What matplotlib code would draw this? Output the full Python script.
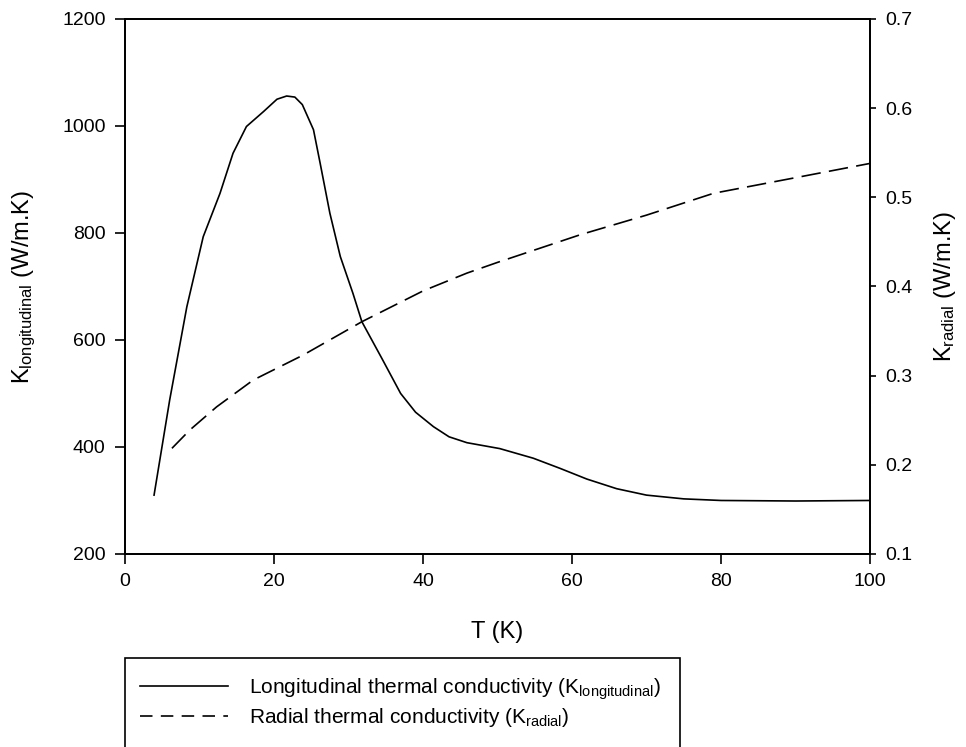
import matplotlib
matplotlib.use("Agg")
import matplotlib.pyplot as plt
from matplotlib.lines import Line2D
from matplotlib.patches import Rectangle

plt.rcParams['font.family'] = ['Liberation Sans', 'DejaVu Sans']
plt.rcParams['mathtext.default'] = 'regular'
plt.rcParams['lines.scale_dashes'] = False

# longitudinal conductivity (left axis)
t_long = [3.9, 6.0, 8.3, 10.5, 12.75, 14.5, 16.3, 18.6, 20.4, 21.7, 22.8, 23.8,
          25.3, 26.2, 27.5, 28.9, 30.6, 31.8, 34.5, 37.0, 39.0, 41.4, 43.5,
          45.9, 50.3, 54.8, 58.4, 62.0, 66.0, 70.0, 75.0, 80.0, 90.0, 100.0]
k_long = [310, 488, 662, 793, 874, 949, 999, 1027, 1050, 1056, 1054, 1040,
          993, 930, 837, 756, 687, 634, 565, 500, 465, 438, 419,
          408, 397, 379, 360, 340, 322, 310, 303, 300, 299, 300]

# radial conductivity (right axis)
t_rad = [6.3, 8.7, 12.3, 17.2, 23.9, 29.8, 31.8, 40.0, 45.9, 50.0, 61.1,
         70.0, 79.0, 90.0, 100.0]
k_rad = [0.2185, 0.239, 0.265, 0.295, 0.323, 0.351, 0.3605, 0.395, 0.415,
         0.427, 0.458, 0.480, 0.5045, 0.522, 0.538]

fig = plt.figure(figsize=(9.66, 7.47), dpi=100)
ax = fig.add_axes([0.1294, 0.2584, 0.7712, 0.7162])
ax.plot(t_long, k_long, color='black', lw=1.2)
ax.set_xlim(0, 100)
ax.set_ylim(200, 1200)
ax.set_xticks([0, 20, 40, 60, 80, 100])
ax.set_yticks([200, 400, 600, 800, 1000, 1200])
ax.tick_params(direction='out', length=7, width=1.2, labelsize=14, pad=7)
ax.set_xlabel('T (K)', fontsize=17, labelpad=22)
ax.set_ylabel(r'K$_{longitudinal}$ (W/m.K)', fontsize=17, labelpad=17)

ax2 = ax.twinx()
ax2.plot(t_rad, k_rad, color='black', lw=1.2, dashes=(14, 6))
ax2.set_ylim(0.1, 0.7)
ax2.set_yticks([0.1, 0.2, 0.3, 0.4, 0.5, 0.6, 0.7])
ax2.tick_params(direction='out', length=4, width=1.2, labelsize=14, pad=7)
ax2.set_ylabel(r'K$_{radial}$ (W/m.K)', fontsize=17, labelpad=14)

for a in (ax, ax2):
    for s in a.spines.values():
        s.set_linewidth(1.3)

# legend box, cut off by the bottom edge
fig.patches.append(Rectangle((125 / 966, -0.05), 555 / 966, 0.05 + 1 - 658 / 747,
                             transform=fig.transFigure, fill=False,
                             edgecolor='black', lw=1.2))
handles = [Line2D([], [], color='black', lw=1.2),
           Line2D([], [], color='black', lw=1.2, dashes=(9, 6))]
labels = [r'Longitudinal thermal conductivity (K$_{longitudinal}$)',
          r'Radial thermal conductivity (K$_{radial}$)']
fig.legend(handles, labels, loc='upper left', bbox_to_anchor=(130 / 966, 1 - 666 / 747),
           frameon=False, fontsize=15, handlelength=4.2, handletextpad=1.0,
           labelspacing=0.2, borderpad=0)

fig.savefig('out.png', dpi=100)
